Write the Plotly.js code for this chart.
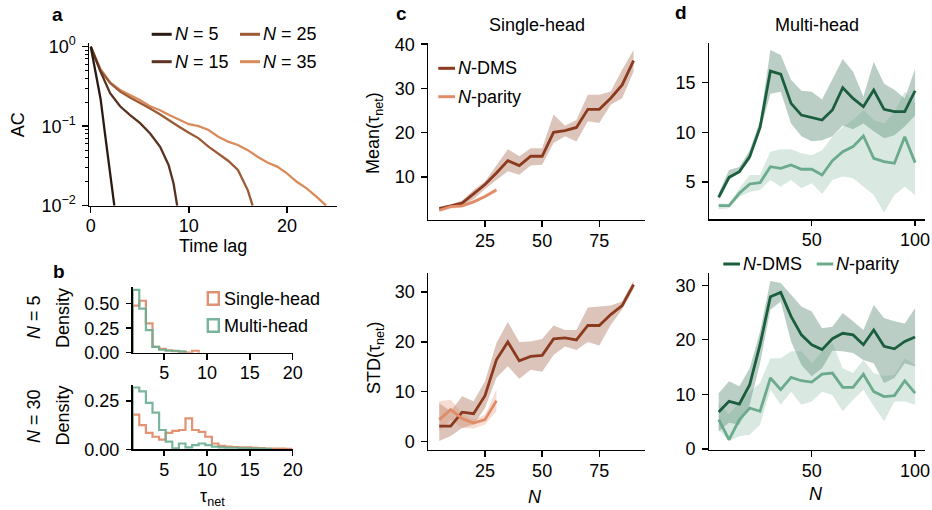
<!DOCTYPE html>
<html>
<head>
<meta charset="utf-8">
<script src="https://cdn.plot.ly/plotly-3.0.1.min.js"></script>
<style>html,body{margin:0;padding:0;background:#fff;}#chart{width:932px;height:510px;}</style>
</head>
<body>
<div id="chart"></div>
<script>
// ---------- Panel a: autocorrelation ----------
const lagN5  = [0, 0.5, 1, 1.5, 2, 2.4];
const acN5   = [1, 0.46, 0.22, 0.072, 0.024, 0.01];
const lagN15 = [0, 0.95, 1.97, 2.99, 4.01, 5.03, 6.05, 7.07, 7.93, 8.44, 8.81];
const acN15  = [1, 0.5, 0.26, 0.178, 0.138, 0.109, 0.081, 0.055, 0.0325, 0.019, 0.01];
const lagN25 = [0, 1, 2, 3, 4, 5, 6, 7, 8, 9, 10, 11, 12, 13, 14, 15, 16, 16.5];
const acN25  = [1, 0.5, 0.346, 0.272, 0.23, 0.198, 0.168, 0.142, 0.117, 0.0986, 0.0828, 0.0703, 0.0552, 0.0447, 0.0368, 0.0281, 0.0157, 0.01];
const lagN35 = [0, 1, 2, 3, 4, 5, 6, 7, 8, 9, 10, 11, 12, 13, 14, 15, 16, 17, 18, 19, 20, 21, 22, 23, 24];
const acN35  = [1, 0.52, 0.352, 0.285, 0.247, 0.213, 0.179, 0.16, 0.138, 0.12, 0.106, 0.1, 0.0895, 0.0738, 0.0638, 0.058, 0.05, 0.0413, 0.035, 0.031, 0.0255, 0.02, 0.0165, 0.013, 0.01];
const acTickVals = [1, 0.1, 0.01];
const acTickText = ["10<sup>0</sup>", "10<sup>−1</sup>", "10<sup>−2</sup>"];
const acMinorTicks = [0.02,0.03,0.04,0.05,0.06,0.07,0.08,0.09,0.2,0.3,0.4,0.5,0.6,0.7,0.8,0.9];

// ---------- Panel b: histograms of tau_net ----------
const binEdges = [1.33, 2.10, 2.87, 3.64, 4.41, 5.18, 5.95, 6.72, 7.49, 8.26, 9.03, 9.80, 10.57, 11.34, 12.11, 12.88, 13.65, 14.42, 15.19, 15.96, 16.73, 17.50, 18.27, 19.04, 19.81];
const histN5Single  = [0.48, 0.53, 0.30, 0.06, 0.04, 0.025, 0.015, 0.01, 0.0, 0.02];
const histN5Multi   = [0.64, 0.45, 0.23, 0.06, 0.03, 0.02, 0.02, 0.01];
const histN30Single = [0.18, 0.125, 0.085, 0.065, 0.05, 0.085, 0.095, 0.10, 0.16, 0.10, 0.09, 0.065, 0.03, 0.018, 0.014, 0.012, 0.01, 0.01, 0.008, 0.006, 0.004, 0.003, 0.003, 0.002];
const histN30Multi  = [0.32, 0.30, 0.24, 0.19, 0.10, 0.04, 0.005, 0.03, 0.01, 0.022, 0.03, 0.022, 0.014, 0.01, 0.008, 0.008, 0.006, 0.005, 0.004, 0.003, 0.002];

// ---------- Panel c: single-head ----------
const cN_dms    = [5,10,15,20,25,30,35,40,45,50,55,60,65,70,75,80,85,90];
const cMeanDms  = [2.86,3.5,4.1,6.2,8.3,10.9,13.7,12.6,14.7,14.7,20.1,20.5,21.2,25.3,25.3,27.8,30.8,36.3];
const cMeanDmsHi= [3.3,3.8,4.7,7.1,9.0,12.8,16.3,14.7,16.5,16.5,24.1,21.6,22.9,28.6,28.6,29.3,34.2,38.7];
const cMeanDmsLo= [2.3,3.2,3.7,5.0,7.3,9.4,11.3,10.5,12.6,12.8,17.7,19.2,18.0,22.6,22.2,26.3,27.8,33.8];
const cN_par    = [5,10,15,20,25,30];
const cMeanPar  = [2.5,3.3,3.5,4.4,5.6,7.1];
const cMeanParHi= [2.9,3.7,3.9,4.8,6.0,7.6];
const cMeanParLo= [2.1,2.9,3.1,4.0,5.2,6.5];
const cStdDms   = [3.1,3.1,5.9,5.6,9.2,16.4,20.0,16.2,17.1,17.3,20.6,20.8,20.4,23.3,23.3,25.5,27.3,31.5];
const cStdDmsHi = [7.7,6.1,9.1,8.1,12.1,19.8,24.0,20.0,20.1,20.6,23.3,22.4,22.4,26.9,27.1,27.3,28.1,32.3];
const cStdDmsLo = [0.1,1.1,2.7,3.4,6.7,12.8,15.1,12.6,14.4,14.0,17.4,19.1,18.4,20.0,19.3,23.4,26.5,30.7];
const cStdPar   = [4.4,6.4,4.6,3.7,4.4,8.2];
const cStdParHi = [8.1,8.4,5.7,4.4,5.4,10.4];
const cStdParLo = [2.1,4.4,2.7,2.6,3.4,6.1];

// ---------- Panel d: multi-head ----------
const dN        = [5,10,15,20,25,30,35,40,45,50,55,60,65,70,75,80,85,90,95,100];
const dMeanDms  = [3.46,5.47,6.04,7.55,10.5,16.17,15.87,12.92,11.74,11.51,11.24,12.25,14.5,13.42,12.58,14.26,12.32,12.08,12.08,14.19];
const dMeanDmsHi= [3.86,6.2,6.5,8.2,11.2,18.3,17.8,15.3,14.2,14.1,13.3,15.3,17.4,16.1,13.6,17.1,14.9,14.3,13.4,16.4];
const dMeanDmsLo= [3.26,5.2,5.9,7.2,10.1,13.9,14.1,10.9,9.6,9.1,9.2,9.6,10.7,10.3,10.9,10.1,9.4,9.7,10.6,11.7];
const dMeanPar  = [2.62,2.62,3.86,4.8,4.93,6.54,6.38,6.71,6.28,6.28,5.7,7.15,8.05,8.56,9.63,7.38,7.05,6.88,9.56,6.95];
const dMeanParHi= [2.85,2.78,4.36,5.7,5.7,8.05,8.3,8.3,7.9,7.7,8.2,9.56,10.57,11.24,12.25,11.24,10.9,12.08,14.1,12.92];
const dMeanParLo= [2.25,2.35,3.52,4.0,4.2,5.2,4.53,5.2,4.36,4.87,3.8,5.2,5.54,5.37,4.53,3.7,1.91,3.7,4.53,3.7];
const dStdDms   = [6.77,8.72,8.23,11.77,19.1,27.9,28.7,24.3,20.9,19.1,18.2,20.2,21.2,20.9,19.1,21.8,18.8,18.35,19.7,20.5];
const dStdDmsHi = [10.2,12.4,11.5,14.8,21.5,30.8,30.4,28.2,26.1,25.2,22.1,22.4,24.9,23.4,21.8,26.4,24.0,23.4,23.0,25.8];
const dStdDmsLo = [3.2,4.8,4.45,8.1,15.7,25.5,27.0,19.7,15.4,13.3,14.8,18.0,17.9,17.6,16.3,15.7,12.1,13.0,15.7,15.1];
const dStdPar   = [5.37,1.7,5.37,7.5,6.9,13.0,10.85,13.1,12.5,12.26,13.7,13.9,11.28,11.28,13.7,10.5,9.6,9.76,12.5,10.24];
const dStdParHi = [8.4,6.3,8.7,10.5,12.1,16.6,16.6,17.9,17.9,15.7,17.9,19.4,14.8,13.9,16.3,13.9,13.3,13.6,16.6,15.4];
const dStdParLo = [3.5,1.4,2.3,2.6,4.45,10.85,8.1,10.5,8.1,8.7,10.5,9.9,6.9,9.0,10.85,7.8,5.06,8.7,8.7,8.1];

// ---------- styling ----------
const W = 932, H = 510;
const FONT = "Liberation Sans, Arial, Helvetica, sans-serif";
const FS = 18;
const colN5 = "#2a1a12", colN15 = "#5a321f", colN25 = "#9c5a35", colN35 = "#d98b5c";
const colSingle = "#de8764", colMulti = "#6aae92";
const cDms = "#8b3a1e", cPar = "#e08c69", cDmsBand = "rgba(139,58,30,0.3)", cParBand = "rgba(224,140,105,0.3)";
const gDms = "#1b5e3e", gPar = "#6baa8c", gDmsBand = "rgba(27,94,62,0.3)", gParBand = "rgba(107,170,140,0.26)";

function px(x) { return x / W; }
function py(y) { return 1 - y / H; }

function lineTrace(x, y, color, width, xa, ya) {
  return {x: x, y: y, type: "scatter", mode: "lines", line: {color: color, width: width},
          xaxis: xa, yaxis: ya, hoverinfo: "skip", showlegend: false, cliponaxis: true};
}
function bandTrace(x, hi, lo, color, xa, ya) {
  return {x: x.concat(x.slice().reverse()), y: hi.concat(lo.slice().reverse()),
          type: "scatter", mode: "lines", fill: "toself", fillcolor: color,
          line: {width: 0, color: "rgba(0,0,0,0)"}, xaxis: xa, yaxis: ya, hoverinfo: "skip", showlegend: false};
}
function stepTrace(edges, vals, color, xa, ya) {
  const xs = [edges[0]], ys = [0];
  for (let i = 0; i < vals.length; i++) { xs.push(edges[i]); ys.push(vals[i]); }
  xs.push(edges[vals.length]); ys.push(0);
  return {x: xs, y: ys, type: "scatter", mode: "lines", line: {color: color, width: 2.2, shape: "hv"},
          opacity: 0.9, xaxis: xa, yaxis: ya, hoverinfo: "skip", showlegend: false};
}

const traces = [
  lineTrace(lagN35, acN35, colN35, 2.3, "x", "y"),
  lineTrace(lagN25, acN25, colN25, 2.3, "x", "y"),
  lineTrace(lagN15, acN15, colN15, 2.3, "x", "y"),
  lineTrace(lagN5, acN5, colN5, 2.3, "x", "y"),

  stepTrace(binEdges, histN5Single, colSingle, "x2", "y2"),
  stepTrace(binEdges, histN5Multi, colMulti, "x2", "y2"),
  stepTrace(binEdges, histN30Single, colSingle, "x3", "y3"),
  stepTrace(binEdges, histN30Multi, colMulti, "x3", "y3"),

  bandTrace(cN_dms, cMeanDmsHi, cMeanDmsLo, cDmsBand, "x4", "y4"),
  bandTrace(cN_par, cMeanParHi, cMeanParLo, cParBand, "x4", "y4"),
  lineTrace(cN_dms, cMeanDms, cDms, 2.8, "x4", "y4"),
  lineTrace(cN_par, cMeanPar, cPar, 2.8, "x4", "y4"),

  bandTrace(cN_dms, cStdDmsHi, cStdDmsLo, cDmsBand, "x5", "y5"),
  bandTrace(cN_par, cStdParHi, cStdParLo, cParBand, "x5", "y5"),
  lineTrace(cN_dms, cStdDms, cDms, 2.8, "x5", "y5"),
  lineTrace(cN_par, cStdPar, cPar, 2.8, "x5", "y5"),

  bandTrace(dN, dMeanDmsHi, dMeanDmsLo, gDmsBand, "x6", "y6"),
  bandTrace(dN, dMeanParHi, dMeanParLo, gParBand, "x6", "y6"),
  lineTrace(dN, dMeanDms, gDms, 2.8, "x6", "y6"),
  lineTrace(dN, dMeanPar, gPar, 2.8, "x6", "y6"),

  bandTrace(dN, dStdDmsHi, dStdDmsLo, gDmsBand, "x7", "y7"),
  bandTrace(dN, dStdParHi, dStdParLo, gParBand, "x7", "y7"),
  lineTrace(dN, dStdDms, gDms, 2.8, "x7", "y7"),
  lineTrace(dN, dStdPar, gPar, 2.8, "x7", "y7")
];

function axis(domain, range, anchor, tickvals, ticktext, extra) {
  const a = {
    domain: domain, range: range, anchor: anchor, autorange: false,
    showgrid: false, zeroline: false, showline: true, linecolor: "#000", linewidth: 1.4,
    ticks: "outside", ticklen: 5.5, tickwidth: 1.4, tickcolor: "#000",
    tickfont: {family: FONT, size: FS, color: "#000"},
    tickmode: "array", tickvals: tickvals, fixedrange: true,
    ticklabelstandoff: (anchor.charAt(0) === "y") ? -2 : 3
  };
  if (ticktext) a.ticktext = ticktext;
  return Object.assign(a, extra || {});
}

const xa_c = [px(428.3), px(645)];
const xa_d = [px(709), px(925)];
const xa_b = [px(132.7), px(292.7)];

const layout = {
  width: W, height: H,
  margin: {l: 0, r: 0, t: 0, b: 0},
  paper_bgcolor: "#fff", plot_bgcolor: "rgba(0,0,0,0)",
  showlegend: false,
  font: {family: FONT, size: FS, color: "#000"},
  xaxis:  axis([px(89.3), px(337)], [-0.15, 25.1], "y", [0, 10, 20]),
  yaxis:  axis([py(205.7), py(42.7)], [-2, 0.05], "x", acTickVals, acTickText,
               {type: "log", minor: {tickvals: acMinorTicks, ticks: "outside", ticklen: 3, tickwidth: 1, tickcolor: "#000", showgrid: false}}),
  xaxis2: axis(xa_b, [1.33, 20], "y2", [5, 10, 15, 20]),
  yaxis2: axis([py(352.7), py(287.3)], [0, 0.667], "x2", [0, 0.25, 0.5], ["0.00", "0.25", "0.50"]),
  xaxis3: axis(xa_b, [1.33, 20], "y3", [5, 10, 15, 20]),
  yaxis3: axis([py(449.3), py(385)], [0, 0.333], "x3", [0, 0.25], ["0.00", "0.25"]),
  xaxis4: axis(xa_c, [0.2, 95], "y4", [25, 50, 75]),
  yaxis4: axis([py(220), py(43.3)], [0.3, 40.2], "x4", [10, 20, 30, 40]),
  xaxis5: axis(xa_c, [0.2, 95], "y5", [25, 50, 75]),
  yaxis5: axis([py(450), py(272.7)], [-1.7, 33.9], "x5", [0, 10, 20, 30]),
  xaxis6: axis(xa_d, [0.3, 104.8], "y6", [50, 100]),
  yaxis6: axis([py(219.3), py(42.7)], [1.24, 19.03], "x6", [5, 10, 15]),
  xaxis7: axis(xa_d, [0.3, 104.8], "y7", [50, 100]),
  yaxis7: axis([py(450), py(272.7)], [-0.2, 32.3], "x7", [0, 10, 20, 30]),
  shapes: [],
  annotations: []
};

function txt(text, x, y, opts) {
  layout.annotations.push(Object.assign({
    text: text, xref: "paper", yref: "paper", x: px(x), y: py(y),
    xanchor: "center", yanchor: "middle", showarrow: false,
    font: {family: FONT, size: FS, color: "#000"}
  }, opts || {}));
}
function legLine(x0, x1, y, color, w) {
  layout.shapes.push({type: "line", xref: "paper", yref: "paper", x0: px(x0), x1: px(x1), y0: py(y), y1: py(y),
                      line: {color: color, width: w || 3}});
}
function legBox(x0, x1, y0, y1, color) {
  layout.shapes.push({type: "rect", xref: "paper", yref: "paper", x0: px(x0), x1: px(x1), y0: py(y0), y1: py(y1),
                      line: {color: color, width: 2.4}, fillcolor: "rgba(0,0,0,0)", opacity: 0.9});
}

// panel letters
const bold = {family: FONT, size: FS + 1, color: "#000", weight: "bold"};
txt("<b>a</b>", 57.5, 14, {font: bold});
txt("<b>b</b>", 59, 271.5, {font: bold});
txt("<b>c</b>", 401.7, 13.5, {font: bold});
txt("<b>d</b>", 681, 12.5, {font: bold});

// titles
txt("Single-head", 536.7, 25);
txt("Multi-head", 816.7, 25);

// axis titles
txt("AC", 17.5, 124.7, {textangle: -90});
txt("Time lag", 213, 246);
txt("<i>N</i> = 5", 34, 317, {textangle: -90});
txt("Density", 62.5, 317.5, {textangle: -90});
txt("<i>N</i> = 30", 34, 416, {textangle: -90});
txt("Density", 62.5, 415, {textangle: -90});
txt("τ<sub>net</sub>", 212, 497);
txt("Mean(τ<sub>net</sub>)", 375, 133, {textangle: -90});
txt("STD(τ<sub>net</sub>)", 375, 358, {textangle: -90});
txt("<i>N</i>", 535, 497);
txt("<i>N</i>", 816, 494);

// legend panel a
legLine(151.7, 171.7, 34.3, colN5);
legLine(151.7, 171.7, 61.7, colN15);
legLine(240, 260, 34.3, colN25);
legLine(240, 260, 61.7, colN35);
txt("<i>N</i> = 5", 173, 34.3, {xanchor: "left"});
txt("<i>N</i> = 15", 173, 61.7, {xanchor: "left"});
txt("<i>N</i> = 25", 261, 34.3, {xanchor: "left"});
txt("<i>N</i> = 35", 261, 61.7, {xanchor: "left"});

// legend panel b
legBox(207.8, 218.8, 292.3, 304.7, colSingle);
legBox(207.8, 218.8, 319.3, 331.7, colMulti);
txt("Single-head", 221.5, 298.5, {xanchor: "left"});
txt("Multi-head", 221.5, 325.5, {xanchor: "left"});

// legend panel c
legLine(438.3, 455, 68.3, cDms);
legLine(438.3, 455, 96.7, cPar);
txt("<i>N</i>-DMS", 456, 68.3, {xanchor: "left"});
txt("<i>N</i>-parity", 456, 96.7, {xanchor: "left"});

// legend panel d
legLine(723.3, 740, 264, gDms);
legLine(816.7, 833.3, 264, gPar);
txt("<i>N</i>-DMS", 741, 264, {xanchor: "left"});
txt("<i>N</i>-parity", 834, 264, {xanchor: "left"});

Plotly.newPlot("chart", traces, layout, {staticPlot: true, displayModeBar: false});
</script>
</body>
</html>
